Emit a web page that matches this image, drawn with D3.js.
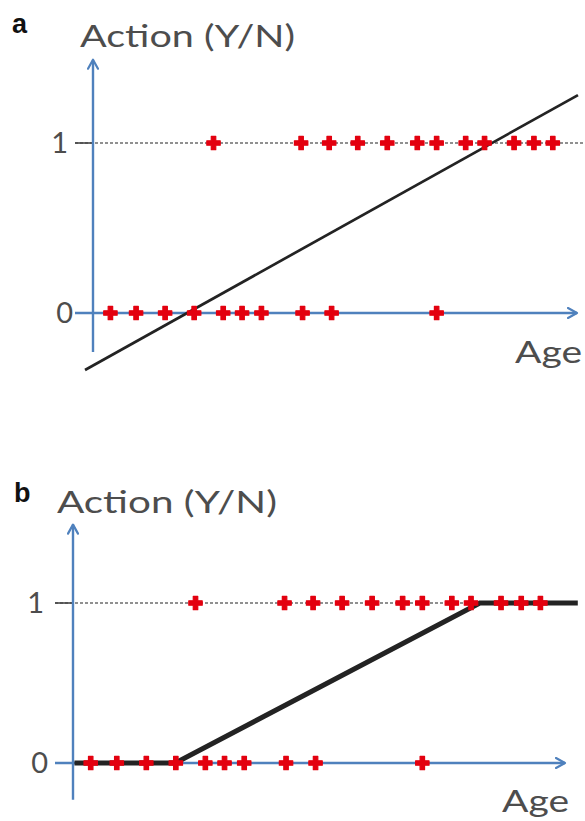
<!DOCTYPE html>
<html>
<head>
<meta charset="utf-8">
<script src="https://cdn.jsdelivr.net/npm/d3@7/dist/d3.min.js"></script>
<style>
  html, body { margin: 0; padding: 0; background: #fff; }
  svg { display: block; }
</style>
</head>
<body>
<svg id="chart" width="585" height="821"></svg>
<script>
// Ages (arbitrary units on a 0–100 axis) of people who did not act (0) and who acted (1)
const agesNo  = [3.6, 8.9, 14.9, 20.9, 26.9, 30.8, 34.8, 43.3, 49.3, 71.0];
const agesYes = [24.9, 43.0, 48.8, 54.7, 60.8, 67.0, 71.0, 77.0, 80.9, 87.0, 91.1, 95.0];

// Straight-line fit (panel a) and the same idea clipped to [0, 1] (panel b): [age, value]
const linearFit  = [[-1.65, -0.335], [100.2, 1.282]];
const clippedFit = [[0.3, 0], [20.8, 0], [82.7, 1], [102.6, 1]];

const yTickValues = [0, 1];
const yTickLabels = ["0", "1"];
const panelLetters = ["a", "b"];
const yTitle = "Action (Y/N)";
const xTitle = "Age";

const AXIS_BLUE = "#4f81bd";
const RED = "#e3000f";
const INK = "#232323";
const TEXT_GREY = "#4d4d4d";
const FONT = "Lato, 'DejaVu Sans', sans-serif";

const svg = d3.select("#chart");

// Small arrow-head marker for the axes
const defs = svg.append("defs");
defs.append("marker")
  .attr("id", "arrow")
  .attr("viewBox", "0 0 12 12")
  .attr("refX", 10).attr("refY", 6)
  .attr("markerWidth", 12).attr("markerHeight", 12)
  .attr("markerUnits", "userSpaceOnUse")
  .attr("orient", "auto")
  .append("path")
  .attr("d", "M1,1 L10,6 L1,11")
  .attr("fill", "none")
  .attr("stroke", AXIS_BLUE)
  .attr("stroke-width", 2.2)
  .attr("stroke-linecap", "round")
  .attr("stroke-linejoin", "round");

const panels = [
  { letter: panelLetters[0], xRange: [93, 577], yRange: [313, 143],
    letterPos: [12, 33], titlePos: [80, 47], titleWidth: 215,
    agePos: [515, 363], tickGap: [25, 20], fit: linearFit, fitWidth: 2.7 },
  { letter: panelLetters[1], xRange: [73, 565], yRange: [763, 603],
    letterPos: [14, 502], titlePos: [57, 513], titleWidth: 220,
    agePos: [502, 812], tickGap: [29, 25], fit: clippedFit, fitWidth: 5 }
];

panels.forEach(p => {
  const x = d3.scaleLinear().domain([0, 100]).range(p.xRange);
  const y = d3.scaleLinear().domain([0, 1]).range(p.yRange);
  const g = svg.append("g");
  const x0 = x(0);

  // Panel letter
  g.append("text")
    .attr("x", p.letterPos[0]).attr("y", p.letterPos[1])
    .attr("font-family", "Liberation Sans, Arial, sans-serif")
    .attr("font-weight", "bold").attr("font-size", 27)
    .attr("fill", "#111")
    .text(p.letter);

  // Y title
  g.append("text")
    .attr("x", p.titlePos[0]).attr("y", p.titlePos[1])
    .attr("font-family", FONT)
    .attr("font-weight", 400).attr("font-size", 30)
    .attr("fill", TEXT_GREY)
    .attr("textLength", p.titleWidth)
    .attr("lengthAdjust", "spacingAndGlyphs")
    .text(yTitle);

  // X title
  g.append("text")
    .attr("x", p.agePos[0]).attr("y", p.agePos[1])
    .attr("font-family", FONT)
    .attr("font-weight", 400).attr("font-size", 30)
    .attr("fill", TEXT_GREY)
    .attr("textLength", 67)
    .attr("lengthAdjust", "spacingAndGlyphs")
    .text(xTitle);

  // Dashed reference line at value 1
  g.append("line")
    .attr("x1", x0 - 18).attr("x2", x(101.3))
    .attr("y1", y(1)).attr("y2", y(1))
    .attr("stroke", "#222").attr("stroke-width", 1.1)
    .attr("stroke-dasharray", "3,2");
  g.append("line")
    .attr("x1", x0 - 18).attr("x2", x0)
    .attr("y1", y(1)).attr("y2", y(1))
    .attr("stroke", "#444").attr("stroke-width", 1.6);

  // Tick labels
  g.selectAll("text.tick")
    .data(yTickValues)
    .join("text")
    .attr("class", "tick")
    .attr("x", (d, i) => x0 - p.tickGap[i === 1 ? 0 : 1])
    .attr("y", d => y(d))
    .attr("dy", "0.36em")
    .attr("text-anchor", "end")
    .attr("font-family", FONT)
    .attr("font-weight", 400).attr("font-size", 29)
    .attr("fill", TEXT_GREY)
    .text((d, i) => yTickLabels[i]);

  // Axes
  g.append("line")
    .attr("x1", x0).attr("x2", x0)
    .attr("y1", y(-0.23)).attr("y2", y(1.49))
    .attr("stroke", AXIS_BLUE).attr("stroke-width", 2.4)
    .attr("marker-end", "url(#arrow)");
  g.append("line")
    .attr("x1", x0 - 18).attr("x2", x(100))
    .attr("y1", y(0)).attr("y2", y(0))
    .attr("stroke", AXIS_BLUE).attr("stroke-width", 2.4)
    .attr("marker-end", "url(#arrow)");

  // Fitted line
  g.append("path")
    .datum(p.fit)
    .attr("d", d3.line().x(d => x(d[0])).y(d => y(d[1])))
    .attr("fill", "none")
    .attr("stroke", INK)
    .attr("stroke-width", p.fitWidth)
    .attr("stroke-linejoin", "miter");

  // Observations as red crosses
  const cross = d3.symbol().type(d3.symbolCross).size(100);
  const pts = agesNo.map(a => [a, 0]).concat(agesYes.map(a => [a, 1]));
  g.selectAll("path.obs")
    .data(pts)
    .join("path")
    .attr("class", "obs")
    .attr("transform", d => `translate(${x(d[0])},${y(d[1])})`)
    .attr("d", cross)
    .attr("fill", RED)
    .attr("stroke", RED)
    .attr("stroke-width", 1.2)
    .attr("stroke-linejoin", "round");
});
</script>
</body>
</html>
